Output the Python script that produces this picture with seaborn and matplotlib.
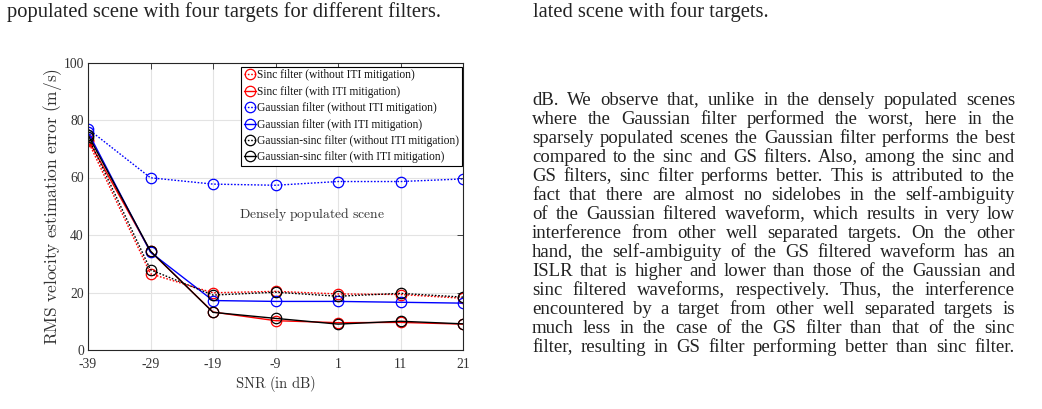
import matplotlib
matplotlib.use("Agg")
import matplotlib.pyplot as plt
from matplotlib.font_manager import FontProperties
import seaborn as sns
import pandas as pd

# Data
snr = [-39, -29, -19, -9, 1, 11, 21]
sinc_without = [72.7, 26.5, 19.9, 20.4, 19.5, 19.3, 18.0]
sinc_with = [73.2, 34.3, 13.2, 10.2, 9.5, 9.6, 9.0]
gauss_without = [76.9, 59.9, 57.7, 57.3, 58.6, 58.6, 59.5]
gauss_with = [75.8, 34.0, 17.2, 16.9, 16.9, 16.6, 16.3]
gs_without = [74.2, 27.9, 19.1, 20.1, 18.7, 19.7, 18.4]
gs_with = [74.8, 34.4, 13.1, 11.0, 9.0, 10.0, 9.1]

labels = [
    "Sinc filter (without ITI mitigation)",
    "Sinc filter (with ITI mitigation)",
    "Gaussian filter (without ITI mitigation)",
    "Gaussian filter (with ITI mitigation)",
    "Gaussian-sinc filter (without ITI mitigation)",
    "Gaussian-sinc filter (with ITI mitigation)",
]
series = [sinc_without, sinc_with, gauss_without, gauss_with, gs_without, gs_with]
colors = ["red", "red", "blue", "blue", "black", "black"]
styles = [(0, (1.2, 1.2)), "-", (0, (1.2, 1.2)), "-", (0, (1.2, 1.2)), "-"]

x_ticks = [-39, -29, -19, -9, 1, 11, 21]
y_ticks = [0, 20, 40, 60, 80, 100]

caption_left = "populated scene with four targets for different filters."
caption_right = "lated scene with four targets."
paragraph = [
    "dB. We observe that, unlike in the densely populated scenes",
    "where the Gaussian filter performed the worst, here in the",
    "sparsely populated scenes the Gaussian filter performs the best",
    "compared to the sinc and GS filters. Also, among the sinc and",
    "GS filters, sinc filter performs better. This is attributed to the",
    "fact that there are almost no sidelobes in the self-ambiguity",
    "of the Gaussian filtered waveform, which results in very low",
    "interference from other well separated targets. On the other",
    "hand, the self-ambiguity of the GS filtered waveform has an",
    "ISLR that is higher and lower than those of the Gaussian and",
    "sinc filtered waveforms, respectively. Thus, the interference",
    "encountered by a target from other well separated targets is",
    "much less in the case of the GS filter than that of the sinc",
    "filter, resulting in GS filter performing better than sinc filter.",
]

sns.set_theme(style="whitegrid")
serif = ["Liberation Serif", "DejaVu Serif"]
plt.rcParams["font.family"] = serif
plt.rcParams["mathtext.fontset"] = "cm"
plt.rcParams["axes.unicode_minus"] = False

W, H = 1042, 409
fig = plt.figure(figsize=(W / 100, H / 100), dpi=100)
fig.patch.set_facecolor("white")
ax = fig.add_axes([88 / W, 1 - 350 / H, 375 / W, 287.5 / H])
ax.set_facecolor("white")

for vals, lab, col, ls in zip(series, labels, colors, styles):
    df = pd.DataFrame({"SNR": snr, "RMS": vals})
    sns.lineplot(data=df, x="SNR", y="RMS", ax=ax, color=col, linestyle=ls,
                 linewidth=1.0, marker="o", markersize=7.5,
                 markerfacecolor="none", markeredgecolor=col,
                 markeredgewidth=0.9, label=lab)

ax.set_xlim(-39, 21)
ax.set_ylim(0, 100)
ax.set_xticks(x_ticks)
ax.set_yticks(y_ticks)
ax.grid(True, color="#e3e3e3", linewidth=0.8)
ax.set_axisbelow(True)
for sp in ax.spines.values():
    sp.set_visible(True)
    sp.set_color("#262626")
    sp.set_linewidth(0.8)
ax.tick_params(direction="in", top=True, right=True, length=4, width=0.6,
               colors="#262626", labelsize=9.8)
ax.tick_params(axis="x", pad=6)
ax.tick_params(axis="y", pad=3)
for t in ax.get_xticklabels() + ax.get_yticklabels():
    t.set_color("#333333")

ax.set_xlabel(r"$\mathrm{SNR\ (in\ dB)}$", fontsize=10.5, color="#333333",
              va="center")
ax.xaxis.set_label_coords(0.5, -(384 - 350) / 287.5)
ax.set_ylabel(r"$\mathrm{RMS\ velocity\ estimation\ error\ (m/s)}$",
              fontsize=12.5, color="#333333", va="center")
ax.yaxis.set_label_coords(-(88 - 53) / 375, 0.5)
ax.text(0.597, 0.47, r"$\mathrm{Densely\ populated\ scene}$",
        transform=ax.transAxes, ha="center", va="center", fontsize=9.8,
        color="#333333")

leg = ax.legend(loc="upper right", bbox_to_anchor=(0.998, 0.986), fontsize=8.3,
                frameon=True, fancybox=False, framealpha=1, edgecolor="black",
                handlelength=1.0, handletextpad=0.15, labelspacing=0.38,
                borderpad=0.25, borderaxespad=0.0)
leg.get_frame().set_linewidth(0.8)
for txt in leg.get_texts():
    txt.set_color("#111111")

# Page text around the figure
cap_size = 14.8
txt_size = 13.5
txt_col = "#222222"
fig.text(7 / W, 1 - 17 / H, caption_left, fontsize=cap_size, color=txt_col,
         va="baseline", ha="left")
fig.text(533 / W, 1 - 17 / H, caption_right, fontsize=cap_size, color=txt_col,
         va="baseline", ha="left")

# Justified paragraph, one text per word
fig.canvas.draw()
renderer = fig.canvas.get_renderer()
word_fp = FontProperties(family=serif, size=txt_size)


def baseline_shift(word):
    # Agg snaps each text bitmap to whole pixels; undo the 1px wobble
    try:
        from matplotlib.backends.backend_agg import get_hinting_flag
        font = renderer._prepare_font(word_fp)
        font.set_text(word, 0, flags=get_hinting_flag())
        _, h_i = font.get_width_height()
        d_i = font.get_descent()
        return round(d_i / 64.0) - h_i // 64 + (h_i - d_i) // 64
    except Exception:
        return 0


x_left, x_right = 532, 1015
for i, line in enumerate(paragraph):
    words = line.split(" ")
    base = 105 + 19 * i
    objs = [fig.text(0, 0, w, fontproperties=word_fp, color=txt_col,
                     va="baseline", ha="left") for w in words]
    widths = [o.get_window_extent(renderer).width for o in objs]
    gap = (x_right - x_left - sum(widths)) / max(len(words) - 1, 1)
    x = x_left
    for o, w, wd in zip(objs, words, widths):
        o.set_position((x / W, 1 - (base - baseline_shift(w)) / H))
        x += wd + gap

fig.savefig("out.png", dpi=100, facecolor="white")
